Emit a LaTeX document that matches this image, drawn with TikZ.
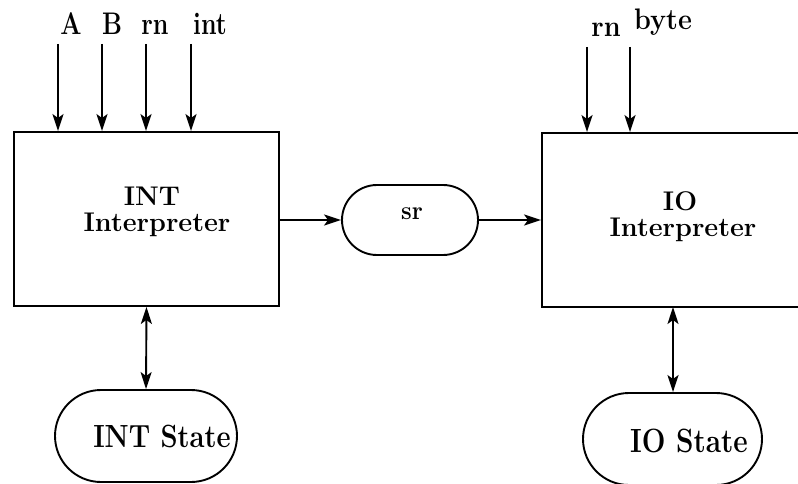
\documentclass[tikz,border=0pt]{standalone}
\usepackage{fontspec}
\usepackage{graphicx}
\usetikzlibrary{arrows.meta}
\newcommand{\vstretch}[2]{\scalebox{1}[#1]{#2}}
\newcommand{\heavy}{\bfseries\addfontfeatures{FakeBold=1.2}}
\begin{document}
\begin{tikzpicture}[x=1pt,y=-1pt,
  txt/.style={inner sep=0pt, anchor=base},
  boxfont/.style={font=\fontsize{27}{30}\selectfont\heavy},
  topfont/.style={font=\fontsize{25}{28}\selectfont\heavy},
  box/.style={draw, line width=1.9pt, inner sep=0pt},
  pill/.style={draw, line width=1.9pt, inner sep=0pt},
  conn/.style={line width=1.9pt, -{Stealth[length=17pt,width=11pt,inset=4pt]}},
  biconn/.style={line width=1.9pt, {Stealth[length=17pt,width=11pt,inset=4pt]}-{Stealth[length=17pt,width=11pt,inset=4pt]}}]
\useasboundingbox (0,0) rectangle (798,484);
\clip (0,0) rectangle (798,484);
% boxes
\node[box, minimum width=265pt, minimum height=174pt] (intbox) at (146.5,219) {};
\node[txt, boxfont] (intl1) at (152,205) {INT};
\node[txt, boxfont] (intl2) at (157,231) {Interpreter};
\node[box, minimum width=265pt, minimum height=174pt] (iobox) at (674.5,220) {};
\node[txt, boxfont] (iol1) at (680,210) {IO};
\node[txt, boxfont] (iol2) at (683,236) {Interpreter};
% sr
\node[pill, minimum width=136pt, minimum height=70pt, rounded corners=35pt] (sr) at (410,220) {};
\node[txt, font=\fontsize{24}{26}\selectfont\heavy] (srl) at (412,219) {\vstretch{1.08}{sr}};
% states
\node[pill, minimum width=182pt, minimum height=92pt, rounded corners=46pt] (ints) at (146,436) {};
\node[txt, font=\fontsize{27.4}{30}\selectfont\heavy] (intsl) at (162,447) {\vstretch{1.17}{INT State}};
\node[pill, minimum width=179pt, minimum height=92pt, rounded corners=46pt] (ios) at (672.5,439) {};
\node[txt, font=\fontsize{28}{30}\selectfont\heavy] (iosl) at (689,452) {\vstretch{1.2}{IO State}};
% input labels
\node[txt, topfont] (lA) at (71,35) {\vstretch{1.25}{A}};
\node[txt, topfont] (lB) at (112,35) {\vstretch{1.25}{B}};
\node[txt, topfont] (lrn) at (155,35) {\vstretch{1.25}{rn}};
\node[txt, topfont] (lint) at (210,35) {\vstretch{1.25}{int}};
\node[txt, boxfont] (lrn2) at (606,37) {\vstretch{1.1}{rn}};
\node[txt, boxfont] (lbyte) at (663,30) {\vstretch{1.1}{byte}};
% input arrows
\coordinate (a1) at (58,44);
\coordinate (a2) at (102,44);
\coordinate (a3) at (146,44);
\coordinate (a4) at (191,44);
\coordinate (b1) at (587,47);
\coordinate (b2) at (630,47);
\draw[conn] (a1) -- (a1 |- intbox.north);
\draw[conn] (a2) -- (a2 |- intbox.north);
\draw[conn] (a3) -- (a3 |- intbox.north);
\draw[conn] (a4) -- (a4 |- intbox.north);
\draw[conn] (b1) -- (b1 |- iobox.north);
\draw[conn] (b2) -- (b2 |- iobox.north);
% horizontal
\draw[conn] (intbox.east |- sr.west) -- (sr.west);
\draw[conn] (sr.east) -- (sr.east -| iobox.west);
% bidirectional
\coordinate (v2) at (673,307);
\draw[biconn] (intbox.south) -- (ints.north);
\draw[biconn] (v2) -- (v2 |- ios.north);
\end{tikzpicture}
\end{document}
